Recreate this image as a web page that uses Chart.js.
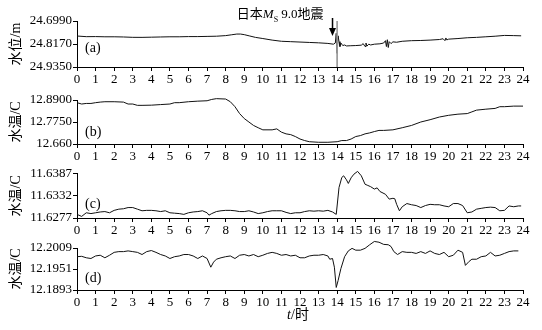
<!DOCTYPE html>
<html>
<head>
<meta charset="utf-8">
<script src="https://cdn.jsdelivr.net/npm/chart.js@4.4.1/dist/chart.umd.min.js"></script>
<style>
body{margin:0;background:#fff;}
#wrap{position:relative;width:542px;height:330px;background:#fff;}
canvas{position:absolute;left:0;}
</style>
</head>
<body>
<div id="wrap">
<canvas id="chartA" width="542" height="88" style="top:0px"></canvas>
<canvas id="chartB" width="542" height="77" style="top:88px"></canvas>
<canvas id="chartC" width="542" height="74" style="top:165px"></canvas>
<canvas id="chartD" width="542" height="91" style="top:239px"></canvas>
</div>
<script>
// (a) water level, m (axis reversed)
var hoursA = [0,0.5,1,1.5,2,2.5,3,3.5,4,4.5,5,5.5,6,6.5,7,7.5,8,8.3,8.6,8.8,9.0,9.3,9.6,10,10.5,11,11.5,12,12.5,13,13.5,13.8,13.9,13.95,14.0,14.05,14.1,14.15,14.2,14.3,14.4,14.5,14.7,15,15.3,15.4,15.5,15.55,15.6,15.7,15.8,16,16.3,16.5,16.6,16.65,16.7,16.75,16.8,16.9,17,17.2,17.5,18,18.5,19,19.5,19.7,19.8,19.85,19.9,20,20.5,21,21.5,22,22.5,23,23.5,23.9];
var levelA = [24.776,24.7794,24.779,24.780,24.780,24.781,24.7828,24.783,24.782,24.781,24.780,24.780,24.779,24.779,24.778,24.777,24.774,24.770,24.766,24.766,24.769,24.776,24.783,24.789,24.797,24.803,24.805,24.807,24.809,24.811,24.814,24.818,24.812,24.762,24.865,24.775,24.805,24.830,24.812,24.825,24.822,24.827,24.826,24.825,24.823,24.815,24.830,24.812,24.828,24.818,24.822,24.818,24.816,24.812,24.800,24.830,24.795,24.835,24.805,24.815,24.806,24.808,24.803,24.800,24.799,24.797,24.794,24.790,24.800,24.786,24.796,24.792,24.789,24.785,24.783,24.780,24.777,24.773,24.774,24.775];
var quakeHours = [14.0, 14.0];
var quakeLevel = [24.699, 24.935];
var levelTicks = [24.699, 24.817, 24.935];
var levelTickLabels = ['24.6990', '24.8170', '24.9350'];

// (b) water temperature
var hoursB = [0,0.25,0.5,0.75,1,1.25,1.5,2,2.5,2.75,3,3.25,3.5,4,4.5,5,5.25,5.5,6,6.5,7,7.25,7.5,8,8.25,8.5,8.75,9,9.25,9.5,9.75,10,10.5,10.75,11,11.25,11.5,11.75,12,12.25,12.5,13,13.5,14,14.25,14.5,14.75,15,15.25,15.5,15.75,16,16.25,16.5,17,17.5,18,18.5,19,19.5,20,20.5,21,21.25,21.5,22,22.5,22.75,23,23.5,24];
var tempB = [12.876,12.869,12.872,12.872,12.876,12.879,12.881,12.881,12.879,12.869,12.869,12.862,12.862,12.863,12.866,12.869,12.876,12.876,12.881,12.884,12.886,12.893,12.897,12.895,12.881,12.855,12.819,12.793,12.775,12.757,12.745,12.734,12.734,12.739,12.722,12.713,12.709,12.699,12.686,12.678,12.672,12.669,12.669,12.672,12.678,12.678,12.686,12.699,12.704,12.713,12.718,12.725,12.731,12.731,12.734,12.745,12.757,12.775,12.787,12.801,12.810,12.816,12.819,12.828,12.837,12.842,12.846,12.855,12.855,12.858,12.858];
var tempBTicks = [12.66, 12.775, 12.89];
var tempBTickLabels = ['12.660', '12.7750', '12.8900'];

// (c) water temperature
var hoursC = [0,0.25,0.5,0.75,1,1.25,1.5,1.75,2,2.25,2.5,2.75,3,3.25,3.5,3.75,4,4.25,4.5,4.75,5,5.25,5.5,5.75,6,6.25,6.5,6.75,7,7.1,7.25,7.5,7.75,8,8.25,8.5,8.75,9,9.25,9.5,9.75,10,10.25,10.5,10.75,11,11.25,11.5,11.75,12,12.25,12.5,12.75,13,13.25,13.5,13.75,13.95,14.1,14.25,14.35,14.5,14.6,14.75,14.9,15.1,15.3,15.5,15.65,15.8,16,16.15,16.3,16.6,16.8,17,17.1,17.2,17.35,17.5,17.75,18,18.25,18.5,18.75,19,19.25,19.5,19.75,20,20.25,20.5,20.75,21,21.25,21.5,21.75,22,22.25,22.5,22.75,23,23.25,23.5,23.75,23.9];
var tempC = [11.6286,11.6281,11.6290,11.6288,11.6290,11.6292,11.6293,11.6290,11.6296,11.6299,11.6300,11.6303,11.6303,11.6299,11.6295,11.6296,11.6296,11.6295,11.6293,11.6295,11.6290,11.6289,11.6288,11.6286,11.6290,11.6292,11.6293,11.6295,11.6290,11.6284,11.6288,11.6293,11.6295,11.6296,11.6296,11.6295,11.6293,11.6293,11.6295,11.6292,11.6288,11.6290,11.6293,11.6295,11.6295,11.6295,11.6291,11.6288,11.6290,11.6290,11.6293,11.6295,11.6294,11.6295,11.6294,11.6296,11.6292,11.6286,11.6353,11.6378,11.6382,11.6372,11.6363,11.6377,11.6386,11.6393,11.6382,11.6361,11.6358,11.6355,11.6349,11.6352,11.6343,11.6336,11.6324,11.6326,11.6325,11.6311,11.6295,11.6305,11.6313,11.6310,11.6308,11.6303,11.6308,11.6311,11.6310,11.6310,11.6307,11.6305,11.6313,11.6313,11.6308,11.6290,11.6292,11.6299,11.6301,11.6303,11.6304,11.6303,11.6295,11.6296,11.6307,11.6305,11.6307,11.6307];
var tempCTicks = [11.6277, 11.6332, 11.6387];
var tempCTickLabels = ['11.6277', '11.6332', '11.6387'];

// (d) water temperature
var hoursD = [0,0.25,0.5,0.75,1,1.25,1.5,1.75,2,2.25,2.5,2.75,3,3.25,3.5,3.75,4,4.25,4.5,4.75,5,5.25,5.5,5.75,6,6.25,6.5,6.75,7,7.2,7.35,7.5,7.75,8,8.25,8.5,8.75,9,9.25,9.5,9.75,10,10.25,10.5,10.75,11,11.25,11.5,11.75,12,12.25,12.5,12.75,13,13.25,13.5,13.6,13.75,13.85,13.95,14.05,14.2,14.4,14.6,14.8,15,15.25,15.5,15.75,16,16.25,16.5,16.75,16.9,17.05,17.25,17.5,17.75,18,18.25,18.5,18.75,19,19.25,19.5,19.75,20,20.25,20.5,20.75,20.9,21.1,21.25,21.5,21.75,22,22.25,22.5,22.75,23,23.25,23.5,23.75];
var tempD = [12.1985,12.1986,12.1982,12.1980,12.1987,12.1989,12.1982,12.1989,12.1997,12.1999,12.1999,12.2001,12.1999,12.1997,12.1991,12.1999,12.2002,12.1997,12.1991,12.1987,12.1980,12.1985,12.1987,12.1991,12.1991,12.1987,12.1980,12.1987,12.1980,12.1956,12.1970,12.1978,12.1982,12.1985,12.1987,12.1980,12.1989,12.1991,12.1987,12.1991,12.1985,12.1989,12.1994,12.1997,12.1994,12.1989,12.1991,12.1987,12.1989,12.1982,12.1982,12.1987,12.1989,12.1989,12.1991,12.1987,12.1978,12.1980,12.1956,12.1900,12.1919,12.1952,12.1985,12.2001,12.2008,12.2003,12.2003,12.2008,12.2018,12.2027,12.2025,12.2019,12.2018,12.2013,12.1999,12.1991,12.1999,12.1997,12.1997,12.1994,12.1999,12.1994,12.2001,12.1994,12.1991,12.1997,12.1985,12.1989,12.2003,12.1997,12.1961,12.1972,12.1978,12.1978,12.1985,12.1987,12.1997,12.1987,12.1989,12.1994,12.1999,12.2001,12.2001];
var tempDTicks = [12.1893, 12.1951, 12.2009];
var tempDTickLabels = ['12.1893', '12.1951', '12.2009'];

var SERIF = "'Liberation Serif', 'Noto Sans CJK SC', serif";

function toPoints(hours, values) {
    return hours.map(function(h, i){ return {x: h, y: values[i]}; });
}

function makePanel(id, datasets, yTicks, yTickLabels, yTitle, tag, cfg) {
    var ctx = document.getElementById(id).getContext('2d');
    return new Chart(ctx, {
        type: 'line',
        data: { datasets: datasets },
        options: {
            responsive: false,
            animation: false,
            layout: { padding: { left: 8, right: 19, top: cfg.padTop, bottom: 0 } },
            plugins: { legend: { display: false }, tooltip: { enabled: false } },
            elements: { point: { radius: 0 }, line: { tension: 0 } },
            scales: {
                x: {
                    type: 'linear', min: 0, max: 24,
                    ticks: { stepSize: 1, autoSkip: false, maxRotation: 0, padding: 1, color: '#000',
                             font: { family: SERIF, size: 13 } },
                    grid: { drawOnChartArea: false, tickLength: 4, color: '#000' },
                    border: { color: '#000', width: 1 },
                    afterFit: function(s){ s.height = cfg.axisH; }
                },
                y: {
                    type: 'linear', reverse: !!cfg.reverse,
                    min: Math.min(yTicks[0], yTicks[2]), max: Math.max(yTicks[0], yTicks[2]),
                    afterBuildTicks: function(s){ s.ticks = yTicks.map(function(v){ return {value: v}; }); },
                    ticks: {
                        color: '#000', padding: 1, font: { family: SERIF, size: 13 },
                        callback: function(v){
                            var best = 0;
                            for (var i = 1; i < yTicks.length; i++) {
                                if (Math.abs(yTicks[i] - v) < Math.abs(yTicks[best] - v)) best = i;
                            }
                            return yTickLabels[best];
                        }
                    },
                    grid: { drawOnChartArea: false, tickLength: 4, color: '#000' },
                    border: { color: '#000', width: 1 },
                    title: { display: true, text: yTitle, color: '#000', padding: 0,
                             font: { family: SERIF, size: 14 } },
                    afterFit: function(s){ s.width = 69; }
                }
            }
        },
        plugins: [{
            id: 'tag',
            afterDraw: function(chart){
                var c = chart.ctx, a = chart.chartArea;
                c.save();
                c.fillStyle = '#000';
                c.font = '14px ' + SERIF;
                c.textBaseline = 'middle';
                c.textAlign = 'left';
                c.fillText(tag, a.left + 8, a.top + cfg.tagY);
                if (cfg.extraDraw) cfg.extraDraw(chart, c);
                c.restore();
            }
        }]
    });
}

function lineSet(hours, values, color) {
    return { data: toPoints(hours, values), borderColor: color || '#111', borderWidth: 1,
             pointRadius: 0, clip: false, fill: false };
}

// (a)
makePanel('chartA', [
    lineSet(quakeHours, quakeLevel, '#999'),
    lineSet(hoursA, levelA)
], levelTicks, levelTickLabels, '水位/m', '(a)', {
    padTop: 21, axisH: 21, reverse: true, tagY: 27,
    extraDraw: function(chart, c){
        var xs = chart.scales.x, a = chart.chartArea;
        // label of the quake
        var x = xs.getPixelForValue(8.6), y = 15;
        c.textBaseline = 'middle';
        c.font = '13px ' + SERIF;
        c.fillText('日本', x, y); x += c.measureText('日本').width;
        c.font = 'italic 13px ' + SERIF;
        c.fillText('M', x, y); x += c.measureText('M').width;
        c.font = '8px ' + SERIF;
        c.fillText('S', x, y + 5); x += c.measureText('S').width;
        c.font = '13px ' + SERIF;
        c.fillText(' 9.0地震', x, y);
        // arrow
        var ax = xs.getPixelForValue(13.75);
        c.strokeStyle = '#000';
        c.lineWidth = 1.5;
        c.beginPath(); c.moveTo(ax, 18); c.lineTo(ax, a.top + 8); c.stroke();
        c.beginPath();
        c.moveTo(ax - 3.5, a.top + 7); c.lineTo(ax + 3.5, a.top + 7); c.lineTo(ax, a.top + 15);
        c.closePath(); c.fill();
    }
});

// (b)
makePanel('chartB', [lineSet(hoursB, tempB)], tempBTicks, tempBTickLabels, '水温/C', '(b)', { padTop: 12, axisH: 21, tagY: 32 });

// (c)
makePanel('chartC', [lineSet(hoursC, tempC)], tempCTicks, tempCTickLabels, '水温/C', '(c)', { padTop: 8, axisH: 21, tagY: 31 });

// (d)
makePanel('chartD', [lineSet(hoursD, tempD)], tempDTicks, tempDTickLabels, '水温/C', '(d)', {
    padTop: 9, axisH: 40, tagY: 30,
    extraDraw: function(chart, c){
        var a = chart.chartArea;
        var cx = (a.left + a.right) / 2 - 2, y = a.bottom + 25;
        c.textBaseline = 'middle';
        c.font = 'italic 14px ' + SERIF;
        var w1 = c.measureText('t').width;
        c.font = '14px ' + SERIF;
        var w2 = c.measureText('/时').width;
        var x = cx - (w1 + w2) / 2;
        c.font = 'italic 14px ' + SERIF;
        c.fillText('t', x, y);
        c.font = '14px ' + SERIF;
        c.fillText('/时', x + w1, y);
    }
});
</script>
</body>
</html>
